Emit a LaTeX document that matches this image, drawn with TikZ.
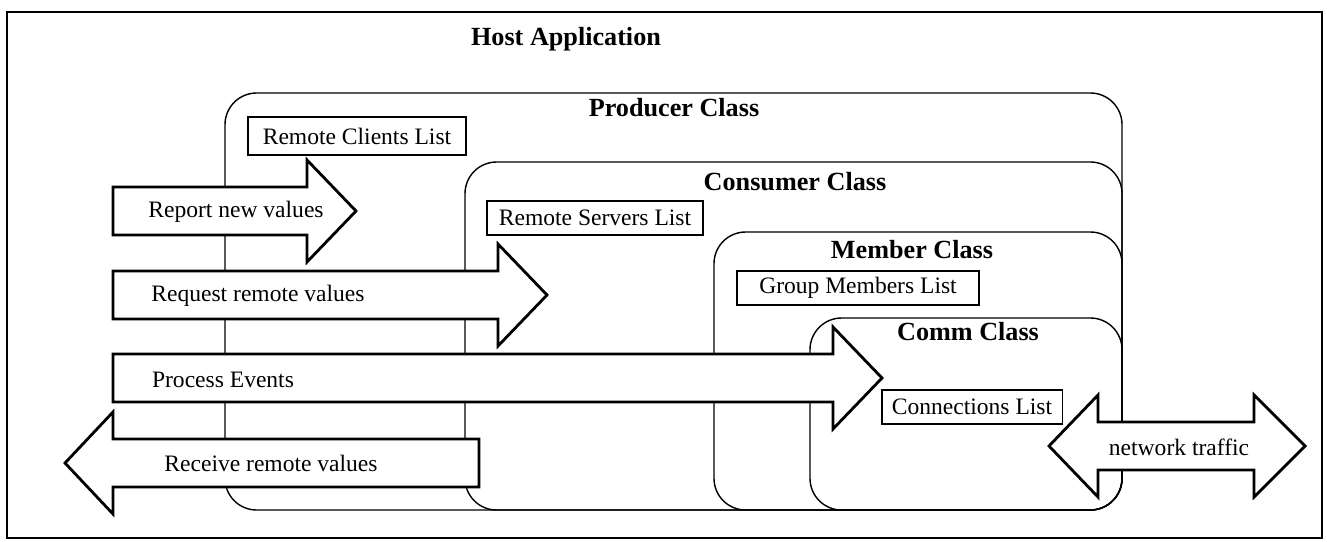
\documentclass[tikz,border=0pt]{standalone}
\usepackage{fontspec}
\setmainfont{Liberation Serif}
\usepackage{tikz}
\usetikzlibrary{positioning,calc}

\begin{document}
\begin{tikzpicture}[x=0.02cm,y=-0.02cm,
  classbox/.style={draw=black,line width=0.8pt,rounded corners=18pt},
  listbox/.style={draw=black,fill=white,line width=1.1pt,inner sep=0pt,
                  minimum height=0.68cm,font=\fontsize{13.4}{16}\selectfont},
  blockarrow/.style={draw=black,fill=white,line width=1.6pt,line join=miter},
  lbl/.style={font=\fontsize{13.4}{16}\selectfont,inner sep=0pt},
  classlbl/.style={font=\fontsize{14.9}{18}\selectfont\bfseries,inner sep=0pt}]
  \useasboundingbox (0,0) rectangle (1327,541);
  % frame
  \draw[line width=1.3pt] (7,12) rectangle (1322,538);
  \node[classlbl] (host) at (566,39) {Host Application};
  % classes
  \draw[classbox] (225,93) rectangle (1122,510);
  \draw[classbox] (465,162) rectangle (1122,510);
  \draw[classbox] (714,232) rectangle (1122,510);
  \draw[classbox] (810,318) rectangle (1122,510);
  \node[classlbl] (prod) at (674,108) {Producer Class};
  \node[classlbl] (cons) at (795,182) {Consumer Class};
  \node[classlbl] (memb) at (912,250) {Member Class};
  \node[classlbl] (comm) at (968,332) {Comm Class};
  % lists
  \node[listbox,minimum width=4.36cm,minimum height=0.76cm] (clients) at (357,136) {Remote Clients List};
  \node[listbox,minimum width=4.32cm] (servers) at (595,218) {Remote Servers List};
  \node[listbox,minimum width=4.84cm] (members) at (858,288) {Group Members List};
  \node[listbox,minimum width=3.62cm] (conns) at (972,407) {Connections List};
  % arrows into the classes
  \foreach \xb/\yc in {307/211, 498/295, 833/378}{
    \draw[blockarrow] (113,\yc-24) -- (\xb,\yc-24) -- (\xb,\yc-51) -- (\xb+49,\yc)
      -- (\xb,\yc+51) -- (\xb,\yc+24) -- (113,\yc+24) -- cycle;
  }
  \draw[blockarrow] (479,439) -- (113,439) -- (113,412) -- (65,463) -- (113,514)
    -- (113,487) -- (479,487) -- cycle;
  \draw[blockarrow] (1098,422) -- (1254,422) -- (1254,395) -- (1305,446) -- (1254,497)
    -- (1254,470) -- (1098,470) -- (1098,497) -- (1049,446) -- (1098,395) -- cycle;
  \node[lbl] (report) at (236,212) {Report new values};
  \node[lbl] (request) at (258,296) {Request remote values};
  \node[lbl] (events) at (223,380) {Process Events};
  \node[lbl] (receive) at (271,463) {Receive remote values};
  \node[lbl] (traffic) at (1179,447) {network traffic};
\end{tikzpicture}
\end{document}
